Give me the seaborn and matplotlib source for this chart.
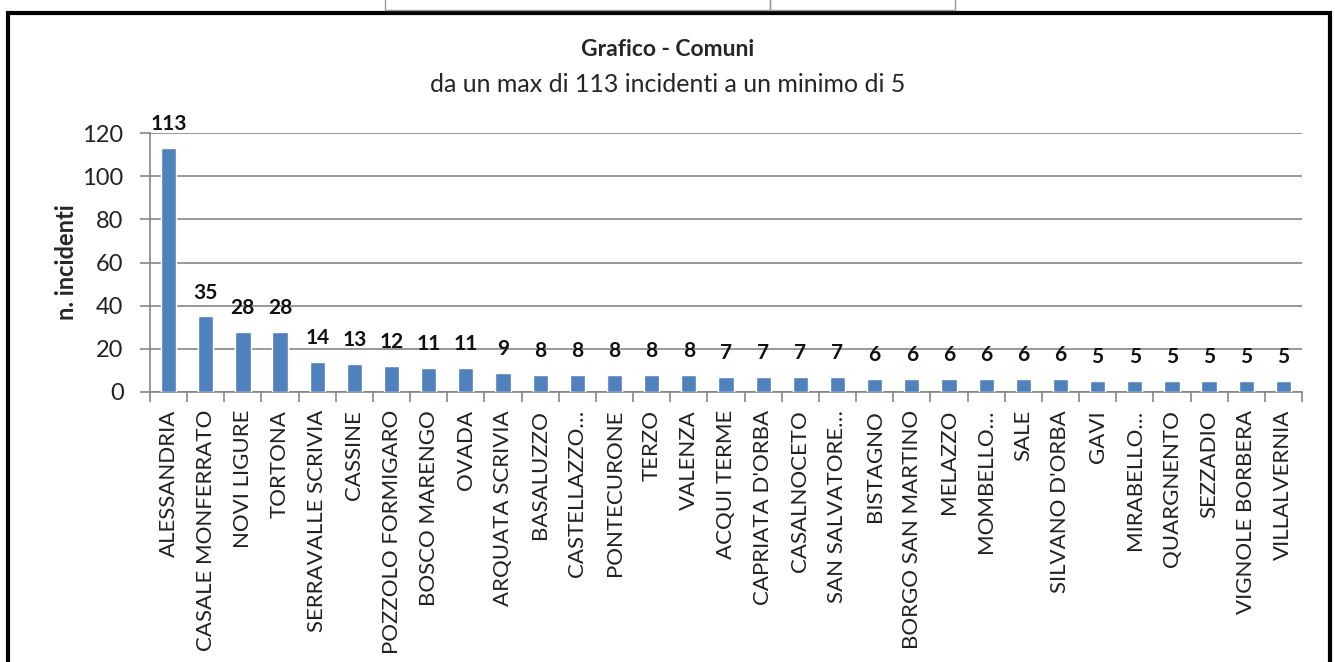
import matplotlib
matplotlib.use("Agg")
import matplotlib.pyplot as plt
import seaborn as sns
import pandas as pd
import numpy as np
from matplotlib.patches import Rectangle

comuni = ["ALESSANDRIA", "CASALE MONFERRATO", "NOVI LIGURE", "TORTONA",
          "SERRAVALLE SCRIVIA", "CASSINE", "POZZOLO FORMIGARO", "BOSCO MARENGO",
          "OVADA", "ARQUATA SCRIVIA", "BASALUZZO", "CASTELLAZZO…", "PONTECURONE",
          "TERZO", "VALENZA", "ACQUI TERME", "CAPRIATA D'ORBA", "CASALNOCETO",
          "SAN SALVATORE…", "BISTAGNO", "BORGO SAN MARTINO", "MELAZZO",
          "MOMBELLO…", "SALE", "SILVANO D'ORBA", "GAVI", "MIRABELLO…",
          "QUARGNENTO", "SEZZADIO", "VIGNOLE BORBERA", "VILLALVERNIA"]
incidenti = [113, 35, 28, 28, 14, 13, 12, 11, 11, 9, 8, 8, 8, 8, 8, 7, 7, 7, 7,
             6, 6, 6, 6, 6, 6, 5, 5, 5, 5, 5, 5]
y_ticks = [0, 20, 40, 60, 80, 100, 120]

df = pd.DataFrame({"comune": comuni, "n": incidenti})

sns.set_theme(style="white")
plt.rcParams['font.family'] = ['Lato', 'DejaVu Sans']

fig = plt.figure(figsize=(13.35, 6.62), dpi=100)
ax = fig.add_axes([150 / 1335, 1 - 392 / 662, 1152 / 1335, 259 / 662])

sns.barplot(data=df, x="comune", y="n", color="#4F81BD", width=0.41,
            saturation=1, ax=ax, zorder=3)

ax.set_ylim(0, 120)
ax.set_xlim(-0.5, len(comuni) - 0.5)
ax.set_yticks(y_ticks)
ax.yaxis.grid(True, color="#868686", linewidth=1.2, zorder=0)
ax.set_axisbelow(True)

for s in ["top", "right"]:
    ax.spines[s].set_visible(False)
for s in ["left", "bottom"]:
    ax.spines[s].set_color("#868686")
    ax.spines[s].set_linewidth(1.2)

ax.set_xticks(np.arange(len(comuni)))
ax.set_xticklabels(comuni, rotation=90, fontsize=16, color="#222222")
ax.set_xticks(np.arange(-0.5, len(comuni)), minor=True)
ax.tick_params(axis="x", which="major", length=0, pad=13)
ax.tick_params(axis="x", which="minor", length=7, width=1.2, color="#868686",
               direction="out", bottom=True)
ax.tick_params(axis="y", length=7, width=1.2, color="#868686", direction="out",
               left=True, labelsize=17, labelcolor="#222222", pad=12)

ax.set_xlabel("")
ax.set_ylabel("n. incidenti", fontsize=17, fontweight="bold", labelpad=3)

for i, v in enumerate(incidenti):
    ax.annotate(str(v), (i, v), xytext=(0, 10), textcoords="offset points",
                ha="center", va="bottom", fontsize=15, fontweight="bold",
                color="#111111")

fig.text(0.5, 1 - 50 / 662, "Grafico - Comuni", ha="center", va="center",
         fontsize=16.5, fontweight="bold")
fig.text(0.5, 1 - 85 / 662, "da un max di 113 incidenti a un minimo di 5",
         ha="center", va="center", fontsize=18)

# outer frame and cells above it
fig.patches.append(Rectangle((8 / 1335, -0.01), 1322 / 1335, 1 - 13 / 662 + 0.01,
                             transform=fig.transFigure, fill=False,
                             edgecolor="black", linewidth=3))
fig.patches.append(Rectangle((385 / 1335, 1 - 10 / 662), 385 / 1335, 12 / 662,
                             transform=fig.transFigure, fill=False,
                             edgecolor="#9a9a9a", linewidth=1))
fig.patches.append(Rectangle((770 / 1335, 1 - 10 / 662), 185 / 1335, 12 / 662,
                             transform=fig.transFigure, fill=False,
                             edgecolor="#9a9a9a", linewidth=1))

fig.savefig("out.png", dpi=100)
